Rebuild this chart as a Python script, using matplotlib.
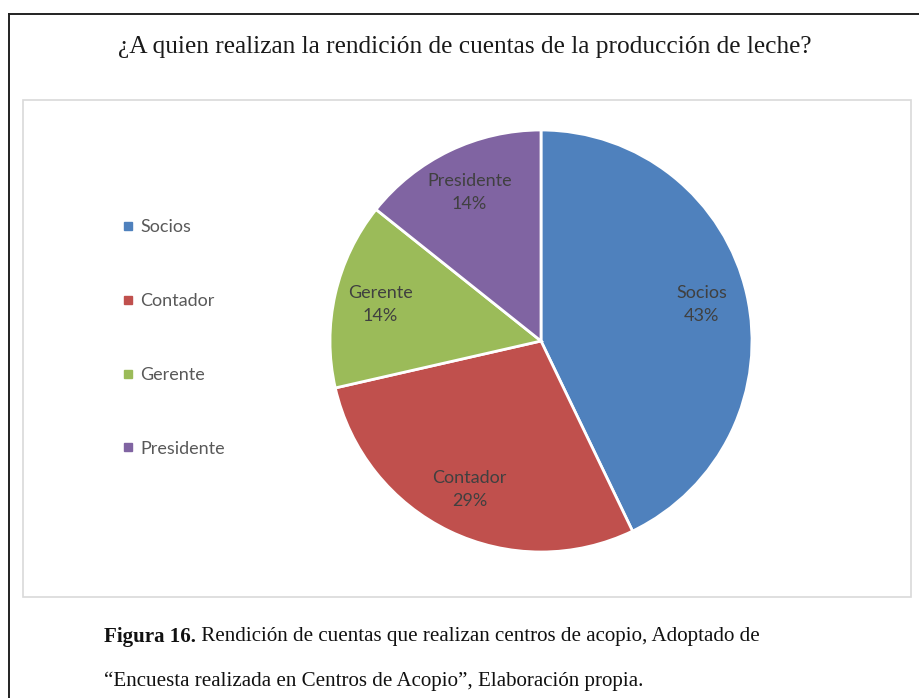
import numpy as np
import matplotlib
matplotlib.use("Agg")
import matplotlib.pyplot as plt
from matplotlib.lines import Line2D
from matplotlib.patches import Rectangle

# datos
categorias = ["Socios", "Contador", "Gerente", "Presidente"]
valores = [3, 2, 1, 1]
colores = ["#4F81BD", "#C0504D", "#9BBB59", "#8064A2"]
titulo = "¿A quien realizan la rendición de cuentas de la producción de leche?"
pie_bold = "Figura 16."
pie_resto = " Rendición de cuentas que realizan centros de acopio, Adoptado de"
pie_linea2 = "\u201cEncuesta realizada en Centros de Acopio\u201d, Elaboración propia."

W, H = 920, 698
fig = plt.figure(figsize=(W / 100, H / 100), dpi=100)

def fx(px):
    return px / W

def fy(py):
    return 1 - py / H

# marco exterior (solo arriba e izquierda visibles)
fig.add_artist(Line2D([fx(9), 1], [fy(14), fy(14)], color="#222222", lw=1.4))
fig.add_artist(Line2D([fx(9), fx(9)], [fy(14), 0], color="#222222", lw=1.4))

# recuadro del grafico
fig.add_artist(Rectangle((fx(23), fy(597)), fx(911) - fx(23), fy(100) - fy(597),
                         fill=False, edgecolor="#D9D9D9", lw=1.2))

fig.text(fx(465), fy(47), titulo, ha="center", va="center",
         family="Liberation Serif", fontsize=18.3, color="#1a1a1a")

# pastel
cx, cy, R = 541, 341, 211
lim = 1.08
half = R * lim
ax = fig.add_axes([fx(cx - half), fy(cy + half), 2 * half / W, 2 * half / H])
wedges, _ = ax.pie(valores, colors=colores, startangle=90, counterclock=False,
                   wedgeprops=dict(edgecolor="white", linewidth=2))
ax.set_xlim(-lim, lim)
ax.set_ylim(-lim, lim)
ax.set_aspect("equal")
ax.axis("off")

total = sum(valores)
for w, nombre, v in zip(wedges, categorias, valores):
    ang = np.deg2rad((w.theta1 + w.theta2) / 2)
    d = 0.78
    ax.text(d * np.cos(ang), d * np.sin(ang),
            f"{nombre}\n{round(100 * v / total)}%",
            ha="center", va="center", family="Lato", fontsize=13,
            color="#404040", linespacing=1.55)

# leyenda
handles = [Line2D([], [], marker="s", ls="", color=c, markersize=5.5) for c in colores]
leg = fig.legend(handles, categorias, loc="center left",
                 bbox_to_anchor=(fx(107), fy(338)), frameon=False,
                 prop=dict(family="Lato", size=13), labelcolor="#595959",
                 labelspacing=3.2, handlelength=0.5, handletextpad=0.45)

# pie de figura
fig.canvas.draw()
r = fig.canvas.get_renderer()
t1 = fig.text(fx(104), fy(637), pie_bold, ha="left", va="center",
              family="Liberation Serif", fontsize=15.1, weight="bold", color="#111111")
bb = t1.get_window_extent(renderer=r)
fig.text(bb.x1 / W, fy(637), pie_resto, ha="left", va="center",
         family="Liberation Serif", fontsize=15.1, color="#111111")
fig.text(fx(104), fy(681), pie_linea2, ha="left", va="center",
         family="Liberation Serif", fontsize=15.1, color="#111111")

fig.savefig("out.png", dpi=100, facecolor="white")
